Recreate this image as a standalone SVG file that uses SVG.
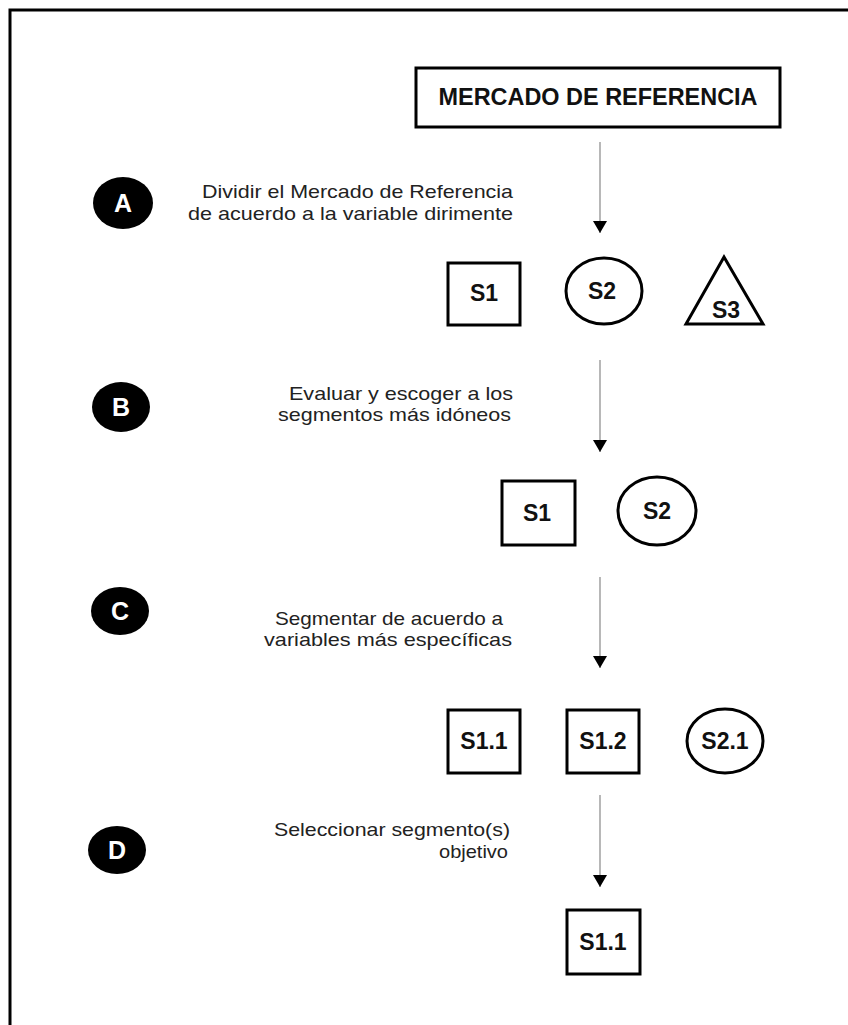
<svg xmlns="http://www.w3.org/2000/svg" width="848" height="1025" viewBox="0 0 848 1025">
<defs>
<style>
.frame{fill:none;stroke:#000;stroke-width:3}
.box{fill:#fff;stroke:#000;stroke-width:3}
.lbl{font-family:"Liberation Sans",Arial,sans-serif;font-weight:bold;font-size:23px;fill:#111;text-anchor:middle}
.desc{font-family:"Liberation Sans",Arial,sans-serif;font-size:18.5px;fill:#222}
.step{fill:#000}
.stepl{font-family:"Liberation Sans",Arial,sans-serif;font-weight:bold;font-size:25px;fill:#fff;text-anchor:middle}
.conn{stroke:#888;stroke-width:1.2;fill:none}
</style>
<marker id="ah" viewBox="0 0 12 14" refX="12" refY="7" markerWidth="12" markerHeight="14" markerUnits="userSpaceOnUse" orient="auto">
<path d="M0,0 L12,7 L0,14 Z" fill="#000"/>
</marker>
</defs>
<rect width="848" height="1025" fill="#fff"/>
<path class="frame" d="M10,1025 L10,10 L848,10"/>

<g id="mercado">
<rect class="box" x="416" y="68" width="364" height="59"/>
<text class="lbl" x="598" y="105" textLength="319" lengthAdjust="spacingAndGlyphs">MERCADO DE REFERENCIA</text>
</g>

<g id="stepA">
<ellipse class="step" cx="123" cy="203" rx="30" ry="26"/>
<text class="stepl" x="123" y="212">A</text>
<text class="desc" x="202" y="197.5" textLength="311" lengthAdjust="spacingAndGlyphs">Dividir el Mercado de Referencia</text>
<text class="desc" x="188" y="219.5" textLength="325" lengthAdjust="spacingAndGlyphs">de acuerdo a la variable dirimente</text>
</g>

<g id="rowA">
<g id="A-S1"><rect class="box" x="448" y="263" width="72" height="62"/><text class="lbl" x="484" y="301">S1</text></g>
<g id="A-S2"><ellipse class="box" cx="604" cy="291" rx="38" ry="33"/><text class="lbl" x="602" y="299">S2</text></g>
<g id="A-S3"><path class="box" d="M724,257 L763,324 L686,324 Z"/><text class="lbl" x="726" y="318">S3</text></g>
</g>

<g id="stepB">
<ellipse class="step" cx="121" cy="407" rx="29" ry="25"/>
<text class="stepl" x="121" y="416">B</text>
<text class="desc" x="289" y="400" textLength="224" lengthAdjust="spacingAndGlyphs">Evaluar y escoger a los</text>
<text class="desc" x="278" y="421" textLength="233" lengthAdjust="spacingAndGlyphs">segmentos más idóneos</text>
</g>

<g id="rowB">
<g id="B-S1"><rect class="box" x="502" y="481" width="73" height="64"/><text class="lbl" x="537" y="521">S1</text></g>
<g id="B-S2"><ellipse class="box" cx="657" cy="511" rx="39" ry="34"/><text class="lbl" x="657" y="519">S2</text></g>
</g>

<g id="stepC">
<ellipse class="step" cx="120" cy="611" rx="29" ry="24"/>
<text class="stepl" x="120" y="620">C</text>
<text class="desc" x="275" y="625" textLength="228" lengthAdjust="spacingAndGlyphs">Segmentar de acuerdo a</text>
<text class="desc" x="264" y="646" textLength="248" lengthAdjust="spacingAndGlyphs">variables más específicas</text>
</g>

<g id="rowC">
<g id="C-S11"><rect class="box" x="448" y="710" width="72" height="63"/><text class="lbl" x="484" y="749">S1.1</text></g>
<g id="C-S12"><rect class="box" x="567" y="710" width="72" height="63"/><text class="lbl" x="603" y="749">S1.2</text></g>
<g id="C-S21"><ellipse class="box" cx="725" cy="741" rx="38" ry="32"/><text class="lbl" x="725" y="749">S2.1</text></g>
</g>

<g id="stepD">
<ellipse class="step" cx="117" cy="850" rx="29" ry="24"/>
<text class="stepl" x="117" y="859">D</text>
<text class="desc" x="274" y="836" textLength="236" lengthAdjust="spacingAndGlyphs">Seleccionar segmento(s)</text>
<text class="desc" x="439" y="858" textLength="69" lengthAdjust="spacingAndGlyphs">objetivo</text>
</g>

<g id="rowD">
<g id="D-S11"><rect class="box" x="567" y="910" width="73" height="64"/><text class="lbl" x="603" y="950">S1.1</text></g>
</g>

<g id="connectors">
<line class="conn" x1="600" y1="142" x2="600" y2="233" marker-end="url(#ah)"/>
<line class="conn" x1="600" y1="360" x2="600" y2="452" marker-end="url(#ah)"/>
<line class="conn" x1="600" y1="577" x2="600" y2="668" marker-end="url(#ah)"/>
<line class="conn" x1="600" y1="795" x2="600" y2="887" marker-end="url(#ah)"/>
</g>
</svg>
